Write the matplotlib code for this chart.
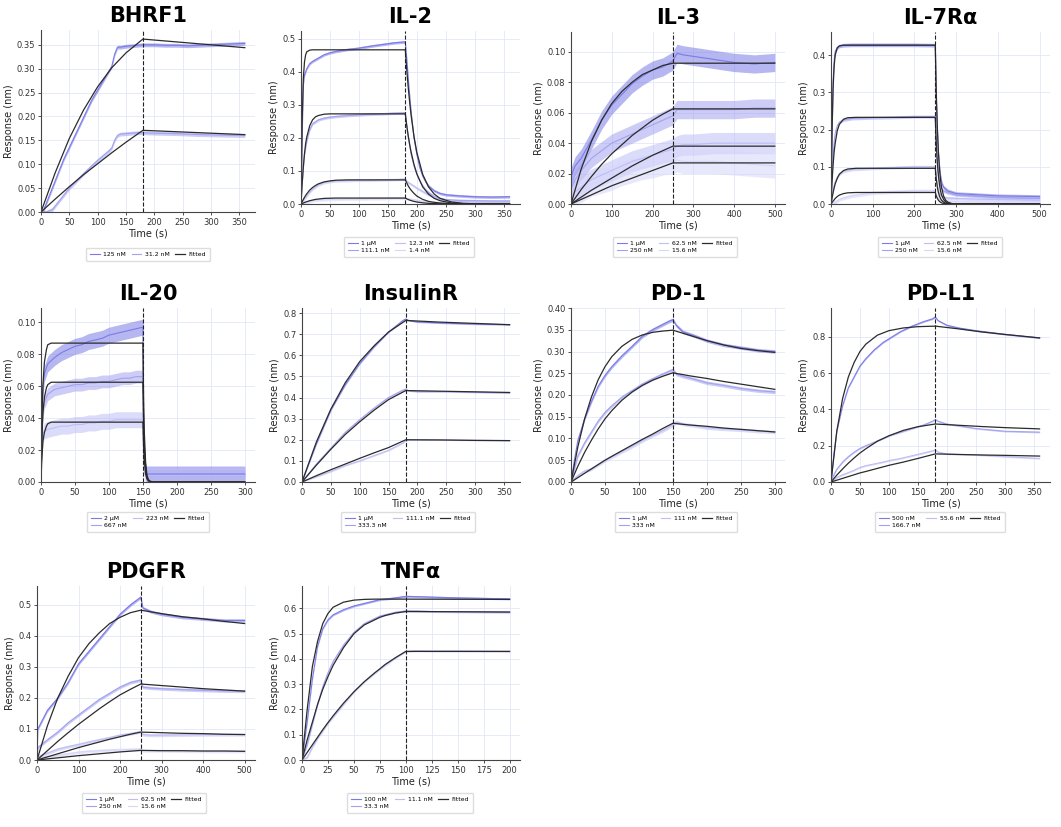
import matplotlib
matplotlib.use('Agg')
import matplotlib.pyplot as plt
from matplotlib.ticker import MultipleLocator
import numpy as np

# ---------------- data ----------------
# BHRF1
bhrf1_t_125 = [0, 5, 10, 20, 30, 40, 50, 60, 70, 80, 90, 100, 110, 120, 125, 130, 135, 140, 150, 160, 170, 180, 200, 220, 240, 260, 280, 300, 320, 340, 360]
bhrf1_125 = [0, 0.005, 0.02, 0.05, 0.08, 0.11, 0.135, 0.16, 0.185, 0.21, 0.235, 0.255, 0.275, 0.295, 0.305, 0.33, 0.345, 0.345, 0.347, 0.348, 0.349, 0.35, 0.35, 0.349, 0.349, 0.348, 0.349, 0.35, 0.351, 0.352, 0.353]
bhrf1_t_31 = [0, 10, 20, 30, 40, 50, 60, 75, 90, 100, 110, 120, 125, 130, 135, 140, 150, 160, 170, 180, 200, 240, 280, 320, 360]
bhrf1_31 = [0, 0.0, 0.005, 0.02, 0.035, 0.05, 0.062, 0.08, 0.097, 0.108, 0.118, 0.128, 0.134, 0.15, 0.16, 0.163, 0.164, 0.165, 0.166, 0.166, 0.165, 0.164, 0.162, 0.161, 0.16]
bhrf1_fit_t = [0, 25, 50, 75, 100, 125, 150, 180, 240, 300, 360]
bhrf1_fit_125 = [0, 0.082, 0.154, 0.213, 0.262, 0.302, 0.333, 0.362, 0.356, 0.35, 0.344]
bhrf1_fit_31 = [0, 0.027, 0.053, 0.078, 0.101, 0.124, 0.146, 0.171, 0.168, 0.165, 0.162]

# IL-2
il2_t = [0, 2, 4, 6, 10, 15, 20, 30, 40, 50, 60, 80, 100, 120, 140, 160, 180, 183, 186, 190, 195, 200, 205, 210, 215, 220, 230, 240, 250, 270, 300, 330, 360]
il2_1um = [0, 0.2, 0.36, 0.39, 0.41, 0.425, 0.432, 0.442, 0.452, 0.458, 0.462, 0.468, 0.472, 0.478, 0.483, 0.488, 0.491, 0.43, 0.36, 0.28, 0.2, 0.15, 0.11, 0.085, 0.068, 0.055, 0.04, 0.032, 0.028, 0.025, 0.022, 0.021, 0.022]
il2_111 = [0, 0.06, 0.11, 0.15, 0.19, 0.225, 0.243, 0.255, 0.26, 0.263, 0.265, 0.268, 0.27, 0.272, 0.273, 0.275, 0.276, 0.23, 0.195, 0.15, 0.115, 0.09, 0.07, 0.055, 0.043, 0.035, 0.022, 0.017, 0.013, 0.011, 0.01, 0.009, 0.009]
il2_12 = [0, 0.005, 0.01, 0.015, 0.025, 0.036, 0.045, 0.058, 0.065, 0.068, 0.07, 0.071, 0.072, 0.072, 0.073, 0.074, 0.075, 0.068, 0.064, 0.06, 0.054, 0.048, 0.043, 0.038, 0.033, 0.028, 0.021, 0.015, 0.011, 0.007, 0.005, 0.004, 0.004]
il2_1p4 = [0, 0.001, 0.002, 0.003, 0.005, 0.007, 0.01, 0.012, 0.013, 0.014, 0.014, 0.015, 0.015, 0.016, 0.016, 0.017, 0.017, 0.016, 0.015, 0.014, 0.013, 0.011, 0.01, 0.008, 0.007, 0.006, 0.005, 0.004, 0.003, 0.002, 0.002, 0.002, 0.002]
il2_fit_t = [0, 2, 4, 6, 8, 10, 15, 20, 25, 30, 40, 50, 60, 80, 180, 182.5, 185, 187.5, 190, 195, 200, 210, 220, 230, 240, 260, 280, 300, 360]
il2_fit_1um = [0, 0.25, 0.38, 0.43, 0.452, 0.461, 0.466, 0.467, 0.467, 0.467, 0.467, 0.467, 0.467, 0.467, 0.467, 0.407, 0.355, 0.309, 0.269, 0.205, 0.156, 0.09, 0.052, 0.03, 0.017, 0.006, 0.002, 0.0006, 0]
il2_fit_111 = [0, 0.062, 0.112, 0.152, 0.183, 0.203, 0.237, 0.255, 0.264, 0.268, 0.272, 0.273, 0.273, 0.273, 0.273, 0.238, 0.207, 0.181, 0.158, 0.12, 0.091, 0.052, 0.03, 0.017, 0.01, 0.003, 0.001, 0.0004, 0]
il2_fit_12 = [0, 0.007, 0.014, 0.02, 0.026, 0.031, 0.042, 0.05, 0.056, 0.061, 0.067, 0.07, 0.072, 0.073, 0.073, 0.064, 0.055, 0.048, 0.042, 0.032, 0.024, 0.014, 0.008, 0.005, 0.003, 0.001, 0.0003, 0.0001, 0]
il2_fit_1p4 = [0, 0.0015, 0.003, 0.0045, 0.006, 0.007, 0.01, 0.012, 0.014, 0.015, 0.017, 0.0175, 0.018, 0.018, 0.018, 0.0157, 0.0137, 0.0119, 0.0104, 0.0079, 0.006, 0.0035, 0.002, 0.0012, 0.0007, 0.0002, 0.0001, 0, 0]

# IL-3
il3_t = [0, 10, 25, 50, 75, 100, 125, 150, 175, 200, 225, 250, 260, 275, 300, 350, 400, 450, 500]
il3_1um = [0.018, 0.025, 0.03, 0.042, 0.055, 0.065, 0.072, 0.079, 0.084, 0.088, 0.09, 0.094, 0.099, 0.098, 0.097, 0.095, 0.093, 0.092, 0.093]
il3_250 = [0.01, 0.016, 0.022, 0.03, 0.035, 0.04, 0.043, 0.046, 0.049, 0.052, 0.055, 0.058, 0.062, 0.062, 0.062, 0.062, 0.062, 0.063, 0.063]
il3_62 = [0.005, 0.008, 0.011, 0.016, 0.019, 0.022, 0.025, 0.028, 0.03, 0.032, 0.034, 0.036, 0.038, 0.039, 0.039, 0.04, 0.04, 0.04, 0.04]
il3_15 = [0.003, 0.006, 0.009, 0.013, 0.015, 0.017, 0.02, 0.022, 0.024, 0.025, 0.027, 0.028, 0.029, 0.028, 0.028, 0.028, 0.027, 0.026, 0.025]
il3_fit_t = [0, 25, 50, 75, 100, 125, 150, 175, 200, 225, 250, 500]
il3_fit_1um = [0, 0.023, 0.041, 0.055, 0.066, 0.074, 0.08, 0.085, 0.088, 0.091, 0.0925, 0.0925]
il3_fit_250 = [0, 0.0095, 0.018, 0.026, 0.033, 0.039, 0.045, 0.05, 0.055, 0.059, 0.0625, 0.0625]
il3_fit_62 = [0, 0.0045, 0.009, 0.013, 0.017, 0.021, 0.025, 0.0285, 0.032, 0.035, 0.038, 0.038]
il3_fit_15 = [0, 0.003, 0.006, 0.009, 0.012, 0.0145, 0.017, 0.0195, 0.022, 0.0245, 0.027, 0.027]

# IL-7Ra
il7_t = [0, 3, 5, 8, 10, 15, 20, 30, 50, 100, 150, 200, 250, 252, 255, 258, 262, 266, 270, 280, 300, 350, 400, 450, 500]
il7_1um = [0, 0.2, 0.33, 0.39, 0.41, 0.42, 0.425, 0.427, 0.428, 0.428, 0.428, 0.428, 0.427, 0.3, 0.2, 0.13, 0.08, 0.055, 0.045, 0.035, 0.028, 0.025, 0.022, 0.021, 0.02]
il7_250 = [0, 0.08, 0.13, 0.17, 0.19, 0.21, 0.22, 0.226, 0.23, 0.232, 0.233, 0.235, 0.235, 0.16, 0.11, 0.075, 0.05, 0.04, 0.035, 0.03, 0.025, 0.021, 0.018, 0.016, 0.015]
il7_62 = [0, 0.02, 0.04, 0.052, 0.06, 0.072, 0.08, 0.088, 0.093, 0.096, 0.098, 0.1, 0.1, 0.075, 0.05, 0.035, 0.025, 0.02, 0.018, 0.016, 0.015, 0.013, 0.012, 0.011, 0.01]
il7_15 = [0, 0.001, 0.002, 0.004, 0.005, 0.008, 0.012, 0.016, 0.022, 0.03, 0.033, 0.035, 0.035, 0.025, 0.018, 0.013, 0.01, 0.008, 0.008, 0.007, 0.006, 0.005, 0.005, 0.005, 0.005]
il7_fit_t = [0, 2.5, 5, 7.5, 10, 15, 20, 30, 40, 60, 250, 252.5, 255, 257.5, 260, 262.5, 265, 270, 275, 280, 290, 300, 500]
il7_fit_1um = [0, 0.2, 0.31, 0.37, 0.4, 0.42, 0.425, 0.427, 0.427, 0.427, 0.427, 0.294, 0.202, 0.139, 0.095, 0.065, 0.045, 0.021, 0.01, 0.005, 0.001, 0, 0]
il7_fit_250 = [0, 0.06, 0.105, 0.14, 0.163, 0.197, 0.214, 0.228, 0.232, 0.233, 0.233, 0.16, 0.11, 0.076, 0.052, 0.036, 0.024, 0.012, 0.0055, 0.0026, 0.0006, 0, 0]
il7_fit_62 = [0, 0.016, 0.03, 0.043, 0.054, 0.069, 0.08, 0.09, 0.094, 0.096, 0.096, 0.066, 0.045, 0.031, 0.021, 0.015, 0.01, 0.005, 0.002, 0.001, 0.0002, 0, 0]
il7_fit_15 = [0, 0.004, 0.008, 0.011, 0.015, 0.02, 0.024, 0.028, 0.03, 0.031, 0.031, 0.021, 0.015, 0.01, 0.007, 0.005, 0.003, 0.0015, 0.0007, 0.0003, 0.0001, 0, 0]

# IL-20
il20_t = [0, 1, 3, 5, 10, 20, 30, 40, 50, 60, 70, 80, 90, 100, 110, 120, 130, 140, 150, 151, 153, 155, 160, 200, 250, 300]
il20_2um = [0, 0.04, 0.06, 0.068, 0.074, 0.078, 0.081, 0.083, 0.085, 0.086, 0.088, 0.089, 0.09, 0.092, 0.093, 0.094, 0.095, 0.096, 0.097, 0.03, 0.01, 0.005, 0.005, 0.005, 0.005, 0.005]
il20_667 = [0, 0.03, 0.045, 0.05, 0.055, 0.058, 0.059, 0.06, 0.061, 0.061, 0.062, 0.062, 0.063, 0.063, 0.064, 0.065, 0.065, 0.066, 0.066, 0.02, 0.008, 0.004, 0.004, 0.004, 0.004, 0.004]
il20_223 = [0, 0.02, 0.03, 0.032, 0.033, 0.034, 0.035, 0.035, 0.036, 0.036, 0.037, 0.037, 0.038, 0.038, 0.039, 0.039, 0.039, 0.039, 0.039, 0.012, 0.005, 0.004, 0.004, 0.004, 0.004, 0.004]
il20_fit_t = [0, 1, 2, 3, 5, 8, 10, 15, 150, 151, 152, 154, 156, 158, 160, 165, 300]
il20_fit_2um = [0, 0.03, 0.05, 0.062, 0.075, 0.083, 0.086, 0.087, 0.087, 0.053, 0.032, 0.012, 0.0043, 0.0016, 0.0006, 0, 0]
il20_fit_667 = [0, 0.021, 0.035, 0.044, 0.053, 0.059, 0.061, 0.0625, 0.0625, 0.038, 0.023, 0.0085, 0.0031, 0.0011, 0.0004, 0, 0]
il20_fit_223 = [0, 0.012, 0.02, 0.026, 0.031, 0.035, 0.0365, 0.0375, 0.0375, 0.023, 0.014, 0.005, 0.0019, 0.0007, 0.0002, 0, 0]

# InsulinR
ins_t = [0, 25, 50, 75, 100, 125, 150, 175, 180, 185, 200, 250, 300, 360]
ins_1um = [0, 0.18, 0.34, 0.46, 0.56, 0.64, 0.71, 0.765, 0.772, 0.765, 0.758, 0.752, 0.748, 0.745]
ins_333 = [0, 0.085, 0.16, 0.235, 0.295, 0.35, 0.4, 0.435, 0.44, 0.432, 0.428, 0.428, 0.425, 0.422]
ins_111 = [0, 0.025, 0.05, 0.078, 0.1, 0.125, 0.15, 0.185, 0.195, 0.2, 0.2, 0.2, 0.198, 0.196]
ins_fit_t = [0, 25, 50, 75, 100, 125, 150, 180, 240, 300, 360]
ins_fit_1um = [0, 0.19, 0.345, 0.47, 0.57, 0.645, 0.71, 0.765, 0.757, 0.751, 0.745]
ins_fit_333 = [0, 0.08, 0.155, 0.225, 0.285, 0.34, 0.39, 0.433, 0.43, 0.427, 0.424]
ins_fit_111 = [0, 0.03, 0.058, 0.085, 0.112, 0.138, 0.163, 0.2, 0.199, 0.197, 0.196]

# PD-1
pd1_t = [0, 5, 10, 20, 30, 40, 50, 60, 75, 90, 105, 120, 135, 145, 150, 155, 165, 180, 200, 225, 250, 275, 300]
pd1_1um = [0, 0.05, 0.095, 0.145, 0.185, 0.22, 0.245, 0.265, 0.29, 0.312, 0.335, 0.35, 0.362, 0.37, 0.373, 0.36, 0.345, 0.337, 0.325, 0.315, 0.309, 0.303, 0.3]
pd1_333 = [0, 0.03, 0.06, 0.09, 0.115, 0.14, 0.16, 0.175, 0.195, 0.21, 0.225, 0.237, 0.248, 0.255, 0.258, 0.248, 0.243, 0.237, 0.228, 0.222, 0.215, 0.21, 0.207]
pd1_111 = [0, 0.008, 0.015, 0.025, 0.03, 0.04, 0.05, 0.058, 0.07, 0.082, 0.095, 0.107, 0.118, 0.127, 0.132, 0.138, 0.133, 0.13, 0.125, 0.122, 0.12, 0.117, 0.115]
pd1_fit_t = [0, 10, 20, 30, 40, 50, 60, 75, 90, 105, 120, 135, 150, 175, 200, 225, 250, 275, 300]
pd1_fit_1um = [0, 0.08, 0.145, 0.195, 0.235, 0.265, 0.288, 0.312, 0.328, 0.338, 0.344, 0.347, 0.349, 0.337, 0.325, 0.315, 0.307, 0.302, 0.298]
pd1_fit_333 = [0, 0.036, 0.068, 0.096, 0.122, 0.145, 0.164, 0.188, 0.207, 0.222, 0.234, 0.243, 0.251, 0.244, 0.238, 0.231, 0.225, 0.219, 0.213]
pd1_fit_111 = [0, 0.01, 0.02, 0.03, 0.04, 0.05, 0.059, 0.072, 0.085, 0.098, 0.11, 0.123, 0.135, 0.131, 0.128, 0.124, 0.121, 0.118, 0.115]

# PD-L1
pdl1_t = [0, 5, 10, 20, 30, 40, 50, 60, 75, 90, 100, 120, 140, 160, 175, 180, 185, 200, 220, 250, 300, 360]
pdl1_500 = [0, 0.15, 0.28, 0.42, 0.52, 0.58, 0.64, 0.68, 0.73, 0.77, 0.79, 0.83, 0.86, 0.885, 0.9, 0.91, 0.89, 0.865, 0.85, 0.835, 0.815, 0.795]
pdl1_166 = [0, 0.04, 0.07, 0.11, 0.14, 0.165, 0.185, 0.2, 0.22, 0.24, 0.255, 0.275, 0.295, 0.315, 0.335, 0.345, 0.335, 0.32, 0.31, 0.295, 0.28, 0.275]
pdl1_55 = [0, 0.012, 0.025, 0.04, 0.052, 0.065, 0.08, 0.09, 0.1, 0.11, 0.118, 0.13, 0.145, 0.16, 0.172, 0.178, 0.165, 0.155, 0.152, 0.15, 0.14, 0.13]
pdl1_fit_t = [0, 10, 20, 30, 40, 50, 60, 80, 100, 125, 150, 180, 220, 260, 300, 360]
pdl1_fit_500 = [0, 0.28, 0.46, 0.58, 0.66, 0.72, 0.76, 0.81, 0.835, 0.85, 0.857, 0.86, 0.845, 0.828, 0.814, 0.795]
pdl1_fit_166 = [0, 0.038, 0.072, 0.104, 0.133, 0.16, 0.183, 0.225, 0.255, 0.285, 0.305, 0.32, 0.313, 0.306, 0.3, 0.293]
pdl1_fit_55 = [0, 0.01, 0.02, 0.03, 0.04, 0.05, 0.058, 0.075, 0.092, 0.11, 0.13, 0.155, 0.152, 0.149, 0.147, 0.143]

# PDGFR
pdgfr_t = [0, 2, 25, 50, 75, 100, 125, 150, 175, 200, 225, 245, 250, 255, 275, 300, 350, 400, 450, 500]
pdgfr_1um = [0, 0.1, 0.16, 0.2, 0.25, 0.31, 0.35, 0.39, 0.43, 0.47, 0.5, 0.52, 0.525, 0.49, 0.478, 0.47, 0.46, 0.455, 0.45, 0.45]
pdgfr_250 = [0, 0.04, 0.065, 0.09, 0.12, 0.145, 0.17, 0.195, 0.215, 0.235, 0.25, 0.256, 0.258, 0.235, 0.232, 0.23, 0.227, 0.225, 0.223, 0.222]
pdgfr_62 = [0, 0.01, 0.022, 0.035, 0.043, 0.05, 0.058, 0.065, 0.072, 0.08, 0.085, 0.09, 0.09, 0.082, 0.08, 0.08, 0.081, 0.082, 0.082, 0.082]
pdgfr_15 = [0, 0.005, 0.01, 0.015, 0.02, 0.025, 0.028, 0.03, 0.032, 0.033, 0.034, 0.035, 0.035, 0.03, 0.03, 0.03, 0.029, 0.028, 0.028, 0.028]
pdgfr_fit_t = [0, 25, 50, 75, 100, 125, 150, 175, 200, 225, 250, 300, 350, 400, 450, 500]
pdgfr_fit_1um = [0, 0.11, 0.2, 0.27, 0.33, 0.375, 0.41, 0.44, 0.46, 0.475, 0.483, 0.472, 0.462, 0.455, 0.447, 0.44]
pdgfr_fit_250 = [0, 0.03, 0.06, 0.088, 0.115, 0.14, 0.165, 0.188, 0.21, 0.228, 0.245, 0.24, 0.235, 0.23, 0.226, 0.222]
pdgfr_fit_62 = [0, 0.01, 0.02, 0.03, 0.04, 0.049, 0.058, 0.067, 0.075, 0.083, 0.09, 0.088, 0.086, 0.085, 0.083, 0.082]
pdgfr_fit_15 = [0, 0.0035, 0.007, 0.0105, 0.014, 0.017, 0.02, 0.023, 0.026, 0.0285, 0.031, 0.03, 0.03, 0.029, 0.029, 0.028]

# TNFa
tnf_t = [0, 5, 10, 15, 20, 25, 30, 40, 50, 60, 75, 90, 100, 110, 125, 150, 175, 200]
tnf_100 = [0, 0.15, 0.32, 0.45, 0.52, 0.555, 0.575, 0.595, 0.61, 0.62, 0.635, 0.642, 0.648, 0.647, 0.645, 0.642, 0.64, 0.638]
tnf_33 = [0, 0.06, 0.14, 0.22, 0.29, 0.345, 0.39, 0.455, 0.505, 0.54, 0.57, 0.585, 0.59, 0.59, 0.588, 0.587, 0.586, 0.585]
tnf_11 = [0, 0.01, 0.05, 0.085, 0.115, 0.145, 0.17, 0.22, 0.27, 0.31, 0.36, 0.405, 0.43, 0.433, 0.432, 0.432, 0.431, 0.43]
tnf_fit_t = [0, 5, 10, 15, 20, 25, 30, 40, 50, 60, 70, 75, 80, 90, 100, 200]
tnf_fit_100 = [0, 0.2, 0.37, 0.47, 0.54, 0.58, 0.605, 0.625, 0.633, 0.636, 0.637, 0.637, 0.637, 0.637, 0.637, 0.636]
tnf_fit_33 = [0, 0.08, 0.15, 0.22, 0.28, 0.33, 0.375, 0.445, 0.5, 0.535, 0.555, 0.565, 0.572, 0.582, 0.588, 0.586]
tnf_fit_11 = [0, 0.03, 0.06, 0.09, 0.12, 0.148, 0.175, 0.225, 0.27, 0.31, 0.345, 0.361, 0.378, 0.405, 0.43, 0.43]

# noise half-width of each measured trace (nm)
bhrf1_noise = [0.004, 0.004]
il2_noise = [0.004, 0.004, 0.004, 0.004]
il3_noise = [0.006, 0.006, 0.007, 0.008]
il7_noise = [0.005, 0.004, 0.004, 0.005]
il20_noise = [0.005, 0.004, 0.005]
ins_noise = [0.003, 0.003, 0.003]
pd1_noise = [0.004, 0.004, 0.004]
pdl1_noise = [0.004, 0.004, 0.004]
pdgfr_noise = [0.005, 0.005, 0.005, 0.005]
tnf_noise = [0.004, 0.004, 0.004]

trace_colors = ['#7b7be6', '#a2a2f0', '#bebef6', '#d6d6fb']

# panel table: title, traces, fits, noise, association end, axis setup, box in pixels
panels = [
    dict(title='BHRF1', labels=['125 nM', '31.2 nM'],
         obs=[(bhrf1_t_125, bhrf1_125), (bhrf1_t_31, bhrf1_31)],
         fit_t=bhrf1_fit_t, fits=[bhrf1_fit_125, bhrf1_fit_31], noise=bhrf1_noise,
         t_end=180, xmax=378, ymax=0.381, xstep=50, ystep=0.05,
         box=(41, 255, 30, 212), leg=(148, 245)),
    dict(title='IL-2', labels=['1 μM', '111.1 nM', '12.3 nM', '1.4 nM'],
         obs=[(il2_t, il2_1um), (il2_t, il2_111), (il2_t, il2_12), (il2_t, il2_1p4)],
         fit_t=il2_fit_t, fits=[il2_fit_1um, il2_fit_111, il2_fit_12, il2_fit_1p4], noise=il2_noise,
         t_end=180, xmax=378, ymax=0.524, xstep=50, ystep=0.1,
         box=(301, 520, 31, 204), leg=(409, 234)),
    dict(title='IL-3', labels=['1 μM', '250 nM', '62.5 nM', '15.6 nM'],
         obs=[(il3_t, il3_1um), (il3_t, il3_250), (il3_t, il3_62), (il3_t, il3_15)],
         fit_t=il3_fit_t, fits=[il3_fit_1um, il3_fit_250, il3_fit_62, il3_fit_15], noise=il3_noise,
         t_end=250, xmax=525, ymax=0.113, xstep=100, ystep=0.02,
         box=(571, 785, 32, 204), leg=(675, 234)),
    dict(title='IL-7Rα', labels=['1 μM', '250 nM', '62.5 nM', '15.6 nM'],
         obs=[(il7_t, il7_1um), (il7_t, il7_250), (il7_t, il7_62), (il7_t, il7_15)],
         fit_t=il7_fit_t, fits=[il7_fit_1um, il7_fit_250, il7_fit_62, il7_fit_15], noise=il7_noise,
         t_end=250, xmax=525, ymax=0.4625, xstep=100, ystep=0.1,
         box=(831, 1050, 32, 204), leg=(940, 234)),
    dict(title='IL-20', labels=['2 μM', '667 nM', '223 nM'],
         obs=[(il20_t, il20_2um), (il20_t, il20_667), (il20_t, il20_223)],
         fit_t=il20_fit_t, fits=[il20_fit_2um, il20_fit_667, il20_fit_223], noise=il20_noise,
         t_end=150, xmax=315, ymax=0.109, xstep=50, ystep=0.02,
         box=(41, 255, 308, 482), leg=(148, 509)),
    dict(title='InsulinR', labels=['1 μM', '333.3 nM', '111.1 nM'],
         obs=[(ins_t, ins_1um), (ins_t, ins_333), (ins_t, ins_111)],
         fit_t=ins_fit_t, fits=[ins_fit_1um, ins_fit_333, ins_fit_111], noise=ins_noise,
         t_end=180, xmax=378, ymax=0.824, xstep=50, ystep=0.1,
         box=(302, 520, 308, 482), leg=(408, 509)),
    dict(title='PD-1', labels=['1 μM', '333 nM', '111 nM'],
         obs=[(pd1_t, pd1_1um), (pd1_t, pd1_333), (pd1_t, pd1_111)],
         fit_t=pd1_fit_t, fits=[pd1_fit_1um, pd1_fit_333, pd1_fit_111], noise=pd1_noise,
         t_end=150, xmax=315, ymax=0.40, xstep=50, ystep=0.05,
         box=(571, 785, 308, 482), leg=(676, 509)),
    dict(title='PD-L1', labels=['500 nM', '166.7 nM', '55.6 nM'],
         obs=[(pdl1_t, pdl1_500), (pdl1_t, pdl1_166), (pdl1_t, pdl1_55)],
         fit_t=pdl1_fit_t, fits=[pdl1_fit_500, pdl1_fit_166, pdl1_fit_55], noise=pdl1_noise,
         t_end=180, xmax=378, ymax=0.96, xstep=50, ystep=0.2,
         box=(831, 1050, 308, 482), leg=(940, 509)),
    dict(title='PDGFR', labels=['1 μM', '250 nM', '62.5 nM', '15.6 nM'],
         obs=[(pdgfr_t, pdgfr_1um), (pdgfr_t, pdgfr_250), (pdgfr_t, pdgfr_62), (pdgfr_t, pdgfr_15)],
         fit_t=pdgfr_fit_t, fits=[pdgfr_fit_1um, pdgfr_fit_250, pdgfr_fit_62, pdgfr_fit_15], noise=pdgfr_noise,
         t_end=250, xmax=525, ymax=0.561, xstep=100, ystep=0.1,
         box=(37, 255, 586, 760), leg=(144, 790)),
    dict(title='TNFα', labels=['100 nM', '33.3 nM', '11.1 nM'],
         obs=[(tnf_t, tnf_100), (tnf_t, tnf_33), (tnf_t, tnf_11)],
         fit_t=tnf_fit_t, fits=[tnf_fit_100, tnf_fit_33, tnf_fit_11], noise=tnf_noise,
         t_end=100, xmax=210, ymax=0.689, xstep=25, ystep=0.1,
         box=(302, 520, 586, 760), leg=(410, 790)),
]

W, H = 1061, 827
fig = plt.figure(figsize=(W / 100, H / 100), dpi=100)

for p in panels:
    x0, x1, top, bot = p['box']
    ax = fig.add_axes([x0 / W, 1 - bot / H, (x1 - x0) / W, (bot - top) / H])

    # measured traces: noise band plus centre line
    for (t, y), hw, c, lab in zip(p['obs'], p['noise'], trace_colors, p['labels']):
        t = np.array(t)
        y = np.array(y)
        ax.fill_between(t, np.clip(y - hw, 0, None), y + hw, color=c, alpha=0.55, lw=0)
        ax.plot(t, y, color=c, lw=0.8, label=lab)

    # fitted curves
    for i, f in enumerate(p['fits']):
        ax.plot(p['fit_t'], f, color='#2b2b2b', lw=0.9, label='Fitted' if i == 0 else None)

    ax.axvline(p['t_end'], color='#222222', ls='--', lw=0.8)

    ax.set_xlim(0, p['xmax'])
    ax.set_ylim(0, p['ymax'])
    ax.xaxis.set_major_locator(MultipleLocator(p['xstep']))
    ax.yaxis.set_major_locator(MultipleLocator(p['ystep']))
    ax.grid(True, color='#e3e6f8', lw=0.6)
    ax.set_axisbelow(True)
    for s in ['top', 'right']:
        ax.spines[s].set_visible(False)
    for s in ['left', 'bottom']:
        ax.spines[s].set_color('#444444')
        ax.spines[s].set_linewidth(0.8)
    ax.tick_params(labelsize=6, length=2.5, width=0.6, colors='#333333', pad=1.5)
    ax.set_xlabel('Time (s)', fontsize=7, labelpad=1.5, color='#222222')
    ax.set_ylabel('Response (nm)', fontsize=7, labelpad=2, color='#222222')
    ax.set_title(p['title'], fontsize=15, fontweight='bold', pad=6)

    lx, ly = p['leg']
    ax.legend(loc='upper center', bbox_to_anchor=(lx / W, 1 - ly / H), bbox_transform=fig.transFigure,
              ncol=3, fontsize=4.4, handlelength=1.6, columnspacing=0.9, handletextpad=0.6,
              borderpad=0.6, labelspacing=0.3, frameon=True, edgecolor='#dddddd', framealpha=1)

fig.savefig('out.png', dpi=100)
